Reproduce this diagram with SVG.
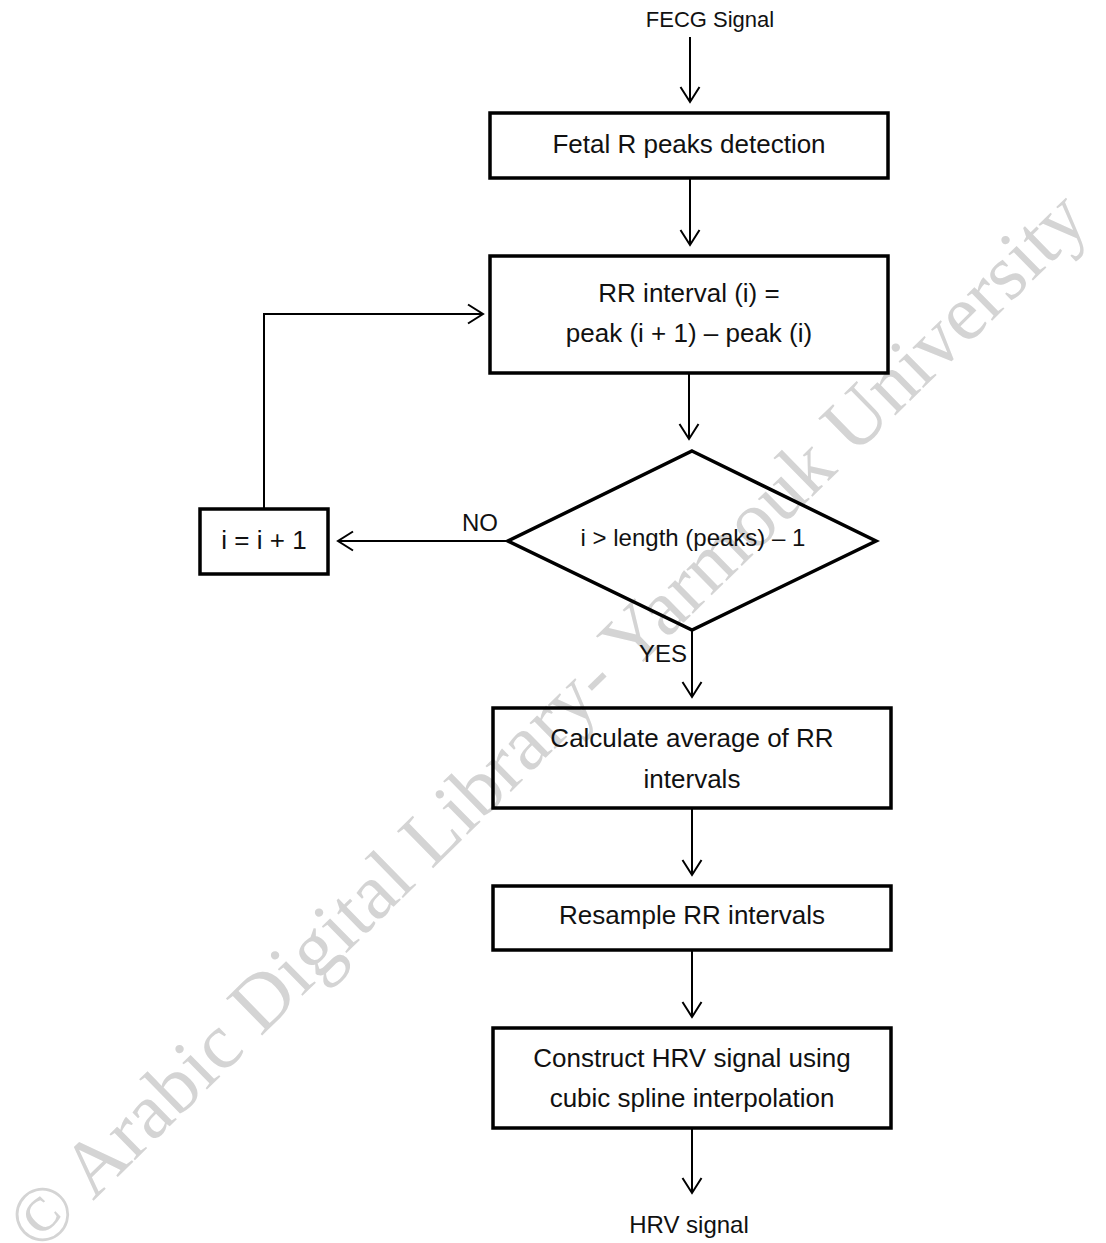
<svg xmlns="http://www.w3.org/2000/svg" width="1106" height="1243" viewBox="0 0 1106 1243">
  <defs>
    <marker id="arrow" markerUnits="userSpaceOnUse" markerWidth="24" markerHeight="24" viewBox="-18 -12 24 24" refX="0" refY="0" orient="auto">
      <path d="M -15 -9.5 L 0 0 L -15 9.5" fill="none" stroke="#000" stroke-width="2"/>
    </marker>
    <style>
      .box { fill: none; stroke: #000; stroke-width: 3.5; }
      .edge { fill: none; stroke: #000; stroke-width: 2; marker-end: url(#arrow); }
      .lbl { font-family: "Liberation Sans", Arial, sans-serif; font-size: 26px; fill: #111; text-anchor: middle; }
      .mark { font-family: "Liberation Serif", "Times New Roman", serif; font-size: 79px; fill: #d4d4d4; }
    </style>
  </defs>

  <rect width="1106" height="1243" fill="#fff"/>

  <!-- diagonal copyright mark behind the chart -->
  <g id="watermark">
    <text class="mark" transform="translate(39,1254) rotate(-44.4)">© Arabic Digital Library- Yarmouk University</text>
  </g>

  <!-- connectors -->
  <g id="connectors">
    <path class="edge" d="M 690 37 L 690 102"/>
    <path class="edge" d="M 690 178 L 690 245"/>
    <path class="edge" d="M 689 373 L 689 439"/>
    <path class="edge" d="M 508 541 L 338 541"/>
    <path class="edge" d="M 264 509 L 264 314 L 483 314"/>
    <path class="edge" d="M 692 630 L 692 697"/>
    <path class="edge" d="M 692 808 L 692 875"/>
    <path class="edge" d="M 692 950 L 692 1017"/>
    <path class="edge" d="M 692 1128 L 692 1193"/>
    <text class="lbl" x="480" y="531" style="font-size:24px">NO</text>
    <text class="lbl" x="663" y="662" style="font-size:24px">YES</text>
  </g>

  <g id="input">
    <text class="lbl" x="710" y="27" style="font-size:22px">FECG Signal</text>
  </g>

  <g id="detect">
    <rect class="box" x="490" y="113" width="398" height="65"/>
    <text class="lbl" x="689" y="153">Fetal R peaks detection</text>
  </g>

  <g id="rr">
    <rect class="box" x="490" y="256" width="398" height="117"/>
    <text class="lbl" x="689" y="302">RR interval (i) =</text>
    <text class="lbl" x="689" y="342">peak (i + 1) – peak (i)</text>
  </g>

  <g id="check">
    <polygon class="box" points="692,451 876,541 692,630 508,541"/>
    <text class="lbl" x="693" y="546" style="font-size:24px">i &gt; length (peaks) – 1</text>
  </g>

  <g id="increment">
    <rect class="box" x="200" y="509" width="128" height="65"/>
    <text class="lbl" x="264" y="549">i = i + 1</text>
  </g>

  <g id="average">
    <rect class="box" x="493" y="708" width="398" height="100"/>
    <text class="lbl" x="692" y="747">Calculate average of RR</text>
    <text class="lbl" x="692" y="788">intervals</text>
  </g>

  <g id="resample">
    <rect class="box" x="493" y="886" width="398" height="64"/>
    <text class="lbl" x="692" y="924">Resample RR intervals</text>
  </g>

  <g id="spline">
    <rect class="box" x="493" y="1028" width="398" height="100"/>
    <text class="lbl" x="692" y="1067">Construct HRV signal using</text>
    <text class="lbl" x="692" y="1107">cubic spline interpolation</text>
  </g>

  <g id="output">
    <text class="lbl" x="689" y="1233" style="font-size:24px">HRV signal</text>
  </g>
</svg>
